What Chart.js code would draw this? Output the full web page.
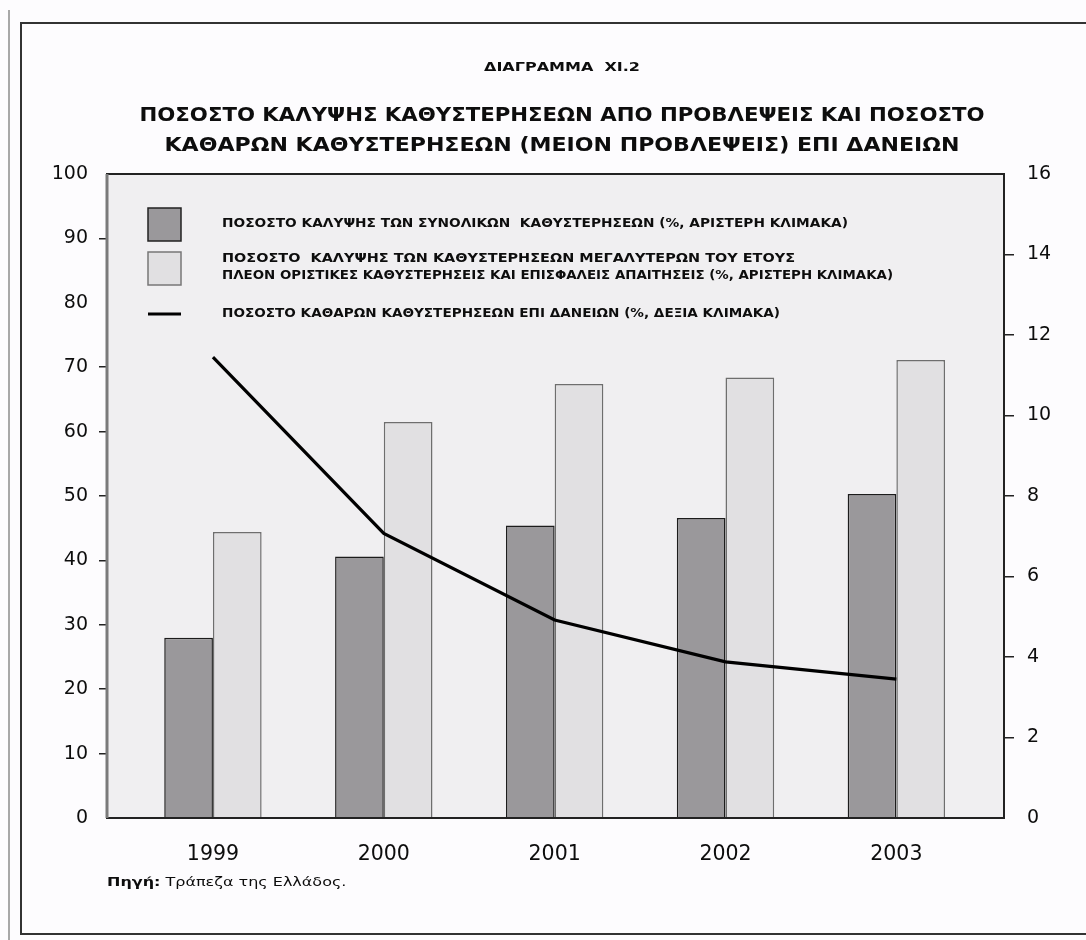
<!DOCTYPE html>
<html lang="el">
<head>
<meta charset="utf-8">
<title>Διάγραμμα XI.2</title>
<script src="https://cdn.jsdelivr.net/npm/chart.js@4.4.1/dist/chart.umd.min.js"></script>
<style>
    html, body { margin: 0; padding: 0; background: #fdfcfe; }
    #wrap { width: 1086px; height: 940px; }
</style>
</head>
<body>
<div id="wrap"><canvas id="chart" width="1086" height="940"></canvas></div>
<script>
const years = ["1999", "2000", "2001", "2002", "2003"];

// % coverage of total arrears by provisions (left axis)
const coverageTotal = [28.0, 40.6, 45.4, 46.6, 50.3];
// % coverage of arrears over one year plus doubtful claims (left axis)
const coverageOverYear = [44.4, 61.5, 67.4, 68.4, 71.1];
// net arrears as % of loans (right axis)
const netArrearsToLoans = [11.45, 7.07, 4.92, 3.88, 3.45];

const leftTicks = { min: 0, max: 100, step: 10 };
const rightTicks = { min: 0, max: 16, step: 2 };

const chartLabel = "ΔΙΑΓΡΑΜΜΑ  XI.2";
const chartTitle = [
    "ΠΟΣΟΣΤΟ ΚΑΛΥΨΗΣ ΚΑΘΥΣΤΕΡΗΣΕΩΝ ΑΠΟ ΠΡΟΒΛΕΨΕΙΣ ΚΑΙ ΠΟΣΟΣΤΟ",
    "ΚΑΘΑΡΩΝ ΚΑΘΥΣΤΕΡΗΣΕΩΝ (ΜΕΙΟΝ ΠΡΟΒΛΕΨΕΙΣ) ΕΠΙ ΔΑΝΕΙΩΝ",
];
const legendTotal = ["ΠΟΣΟΣΤΟ ΚΑΛΥΨΗΣ ΤΩΝ ΣΥΝΟΛΙΚΩΝ  ΚΑΘΥΣΤΕΡΗΣΕΩΝ (%, ΑΡΙΣΤΕΡΗ ΚΛΙΜΑΚΑ)"];
const legendOverYear = [
    "ΠΟΣΟΣΤΟ  ΚΑΛΥΨΗΣ ΤΩΝ ΚΑΘΥΣΤΕΡΗΣΕΩΝ ΜΕΓΑΛΥΤΕΡΩΝ ΤΟΥ ΕΤΟΥΣ",
    "ΠΛΕΟΝ ΟΡΙΣΤΙΚΕΣ ΚΑΘΥΣΤΕΡΗΣΕΙΣ ΚΑΙ ΕΠΙΣΦΑΛΕΙΣ ΑΠΑΙΤΗΣΕΙΣ (%, ΑΡΙΣΤΕΡΗ ΚΛΙΜΑΚΑ)",
];
const legendNet = ["ΠΟΣΟΣΤΟ ΚΑΘΑΡΩΝ ΚΑΘΥΣΤΕΡΗΣΕΩΝ ΕΠΙ ΔΑΝΕΙΩΝ (%, ΔΕΞΙΑ ΚΛΙΜΑΚΑ)"];
const sourceLabel = "Πηγή:";
const sourceText = " Τράπεζα της Ελλάδος.";

const DARK = "#9a989b";
const LIGHT = "#e1e0e2";
const INK = "#0d0d0d";
const FONT = "'DejaVu Sans', 'Liberation Sans', sans-serif";

// text stretched horizontally to a given width (the print face is wide)
function fitText(ctx, text, x, y, width, align) {
    const w = ctx.measureText(text).width;
    ctx.save();
    ctx.translate(x, y);
    ctx.scale(width / w, 1);
    ctx.textAlign = align || "left";
    ctx.fillText(text, 0, 0);
    ctx.restore();
}

const decorations = {
    id: "decorations",
    beforeDraw(chart) {
        const { ctx, chartArea: a } = chart;
        ctx.save();
        ctx.fillStyle = "#fdfcfe";
        ctx.fillRect(0, 0, chart.width, chart.height);

        // page margin line and outer frame
        ctx.strokeStyle = "#a8a8a8";
        ctx.lineWidth = 2;
        ctx.beginPath();
        ctx.moveTo(9, 10);
        ctx.lineTo(9, 940);
        ctx.stroke();
        ctx.strokeStyle = "#333";
        ctx.lineWidth = 2;
        ctx.strokeRect(21, 23, 1100, 911);

        ctx.fillStyle = "#f0eff1";
        ctx.fillRect(a.left, a.top, a.right - a.left, a.bottom - a.top);
        ctx.restore();
    },
    afterDatasetsDraw(chart) {
        const { ctx, chartArea: a } = chart;
        ctx.save();
        ctx.strokeStyle = "#222";
        ctx.lineWidth = 2;
        ctx.strokeRect(a.left, a.top, a.right - a.left, a.bottom - a.top);
        ctx.strokeStyle = "#7a7a7a";
        ctx.lineWidth = 3;
        ctx.beginPath();
        ctx.moveTo(a.left, a.top);
        ctx.lineTo(a.left, a.bottom);
        ctx.stroke();

        // legend inside the plot
        const ds = chart.data.datasets;
        ctx.lineWidth = 1.5;
        ctx.fillStyle = ds[1].backgroundColor;
        ctx.strokeStyle = "#222";
        ctx.fillRect(148, 208, 33, 33);
        ctx.strokeRect(148, 208, 33, 33);
        ctx.fillStyle = ds[2].backgroundColor;
        ctx.strokeStyle = "#777";
        ctx.fillRect(148, 252, 33, 33);
        ctx.strokeRect(148, 252, 33, 33);
        ctx.strokeStyle = ds[0].borderColor;
        ctx.lineWidth = 3;
        ctx.beginPath();
        ctx.moveTo(148, 314);
        ctx.lineTo(181, 314);
        ctx.stroke();

        ctx.fillStyle = INK;
        ctx.font = "bold 11.5px " + FONT;
        ctx.textBaseline = "middle";
        fitText(ctx, legendTotal[0], 222, 224, 626);
        fitText(ctx, legendOverYear[0], 222, 259, 573);
        fitText(ctx, legendOverYear[1], 222, 276, 671);
        fitText(ctx, legendNet[0], 222, 314, 558);
        ctx.restore();
    },
    afterDraw(chart) {
        const { ctx } = chart;
        ctx.save();
        ctx.fillStyle = INK;
        ctx.textBaseline = "middle";
        ctx.font = "bold 11.5px " + FONT;
        fitText(ctx, chartLabel, 562, 68, 156, "center");
        ctx.font = "bold 20px " + FONT;
        fitText(ctx, chartTitle[0], 562, 116, 845, "center");
        fitText(ctx, chartTitle[1], 562, 146, 795, "center");

        // source line, bold label followed by regular text
        ctx.translate(107, 883);
        ctx.scale(1.23, 1);
        ctx.textAlign = "left";
        ctx.font = "bold 13px " + FONT;
        ctx.fillText(sourceLabel, 0, 0);
        const w = ctx.measureText(sourceLabel).width;
        ctx.font = "13px " + FONT;
        ctx.fillText(sourceText, w, 0);
        ctx.restore();
    },
};

const tickFont = { family: FONT, size: 19 };
const yearFont = { family: FONT, size: 20.5 };
const hideTicksAt = (values) => (c) => (c.tick && values.includes(c.tick.value) ? "rgba(0,0,0,0)" : "#222");

const ctx = document.getElementById("chart").getContext("2d");

new Chart(ctx, {
    type: "bar",
    data: {
        datasets: [
            {
                type: "line",
                label: legendNet[0],
                data: years.map((_, i) => ({ x: i, y: netArrearsToLoans[i] })),
                yAxisID: "y1",
                borderColor: "#000",
                borderWidth: 3.2,
                pointRadius: 0,
                tension: 0,
                order: 0,
            },
            {
                label: legendTotal[0],
                data: years.map((_, i) => ({ x: i, y: coverageTotal[i] })),
                yAxisID: "y",
                backgroundColor: DARK,
                borderColor: "#1c1c1c",
                borderWidth: 1.5,
                order: 1,
            },
            {
                label: legendOverYear.join(" "),
                data: years.map((_, i) => ({ x: i, y: coverageOverYear[i] })),
                yAxisID: "y",
                backgroundColor: LIGHT,
                borderColor: "#6e6e6e",
                borderWidth: 1.5,
                order: 1,
            },
        ],
    },
    options: {
        responsive: false,
        animation: false,
        layout: { padding: { top: 174, left: 0, right: 0, bottom: 0 } },
        datasets: {
            bar: { categoryPercentage: 0.57, barPercentage: 1 },
        },
        plugins: {
            legend: { display: false },
            tooltip: { enabled: false },
        },
        scales: {
            x: {
                type: "linear",
                offset: false,
                min: -0.62,
                max: 4.63,
                grid: { display: false, offset: false },
                border: { display: false },
                afterBuildTicks: (s) => { s.ticks = years.map((_, i) => ({ value: i })); },
                ticks: {
                    callback: (v) => years[v],
                    font: yearFont,
                    color: INK,
                    padding: 16,
                },
                afterFit: (s) => { s.height = 122; },
            },
            y: {
                position: "left",
                min: leftTicks.min,
                max: leftTicks.max,
                ticks: { stepSize: leftTicks.step, font: tickFont, color: INK, padding: 11 },
                grid: { drawOnChartArea: false, tickLength: 8, lineWidth: 1.5, color: hideTicksAt([0, 80, 100]) },
                border: { display: false },
                afterFit: (s) => { s.width = 107; },
            },
            y1: {
                position: "right",
                min: rightTicks.min,
                max: rightTicks.max,
                ticks: { stepSize: rightTicks.step, font: tickFont, color: INK, padding: 13 },
                grid: { drawOnChartArea: false, tickLength: 10, lineWidth: 1.5, color: hideTicksAt([0, 16]) },
                border: { display: false },
                afterFit: (s) => { s.width = 82; },
            },
        },
    },
    plugins: [decorations],
});
</script>
</body>
</html>
